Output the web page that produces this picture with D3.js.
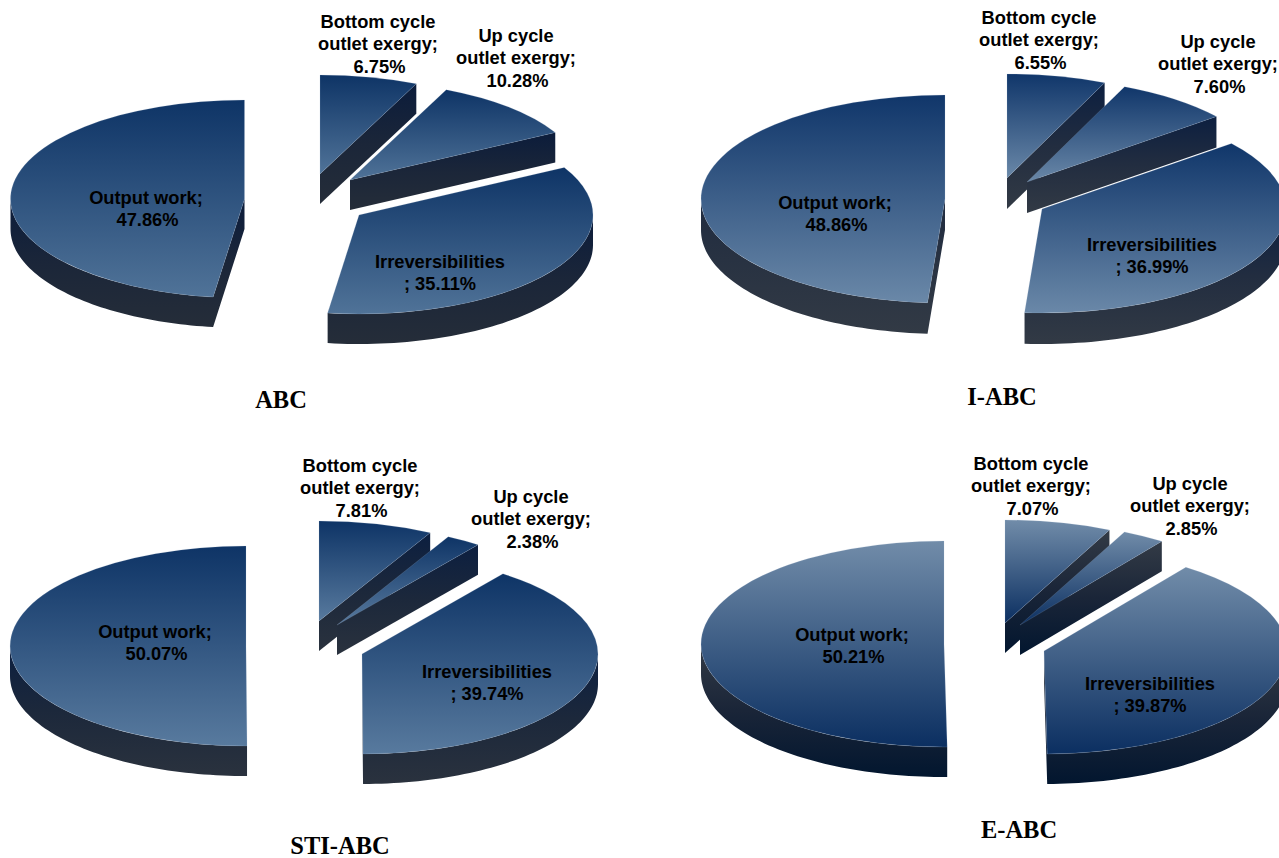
<!DOCTYPE html>
<html>
<head>
<meta charset="utf-8">
<script src="https://cdn.jsdelivr.net/npm/d3@7/dist/d3.min.js"></script>
<style>
html,body{margin:0;padding:0;background:#fff;overflow:hidden}
svg{display:block}
text{font-family:"Liberation Sans",Arial,sans-serif;font-weight:bold;fill:#000}
text.title{font-family:"Liberation Serif","Times New Roman",serif}
</style>
</head>
<body>
<svg id="chart" width="1279" height="858"></svg>
<script>
// ---- data ----
const categories = ["Bottom cycle outlet exergy", "Up cycle outlet exergy", "Irreversibilities", "Output work"];
const abcValues = [6.75, 10.28, 35.11, 47.86];
const iAbcValues = [6.55, 7.60, 36.99, 48.86];
const stiAbcValues = [7.81, 2.38, 39.74, 50.07];
const eAbcValues = [7.07, 2.85, 39.87, 50.21];
const panelTitles = ["ABC", "I-ABC", "STI-ABC", "E-ABC"];

// ---- layout and style (not data) ----
const panels = [
  { values: abcValues, title: panelTitles[0], titleAt: [281, 399.5], rx: 234, ry: 99, depth: 30,
    apex: [[320,174],[350,180],[359,215],[244.5,199]],
    labels: [[378,21],[516,35],[440,261],[146,197]],
    face: ["#0e3466","#507398"], side: ["#0b1c3b","#1b2639","#252d39"] },
  { values: iAbcValues, title: panelTitles[1], titleAt: [1002, 396], rx: 244, ry: 104, depth: 31,
    apex: [[1007,178],[1027,182],[1042,209],[945,199]],
    labels: [[1039,17],[1218,41],[1152,244],[835,202]],
    face: ["#10366a","#6a88a8"], side: ["#0c1f40","#222d40","#323a45"] },
  { values: stiAbcValues, title: panelTitles[2], titleAt: [340, 845], rx: 236, ry: 100, depth: 30,
    apex: [[319,621],[337,625],[362,654],[246,646]],
    labels: [[360,465],[531,496],[487,671],[155,631]],
    face: ["#0e3466","#587a9e"], side: ["#0c1f40","#1c283b","#2a323e"] },
  { values: eAbcValues, title: panelTitles[3], titleAt: [1019, 829.5], rx: 243, ry: 103, depth: 30,
    apex: [[1005,623],[1020,625],[1044,651],[944,644]],
    labels: [[1031,463],[1190,483],[1150,683],[852,634]],
    face: ["#718ca9","#0b2f61"], side: ["#333b46","#1a2538","#02162f"] }
];
const labelSize = 18.3, labelLeading = 22.5, titleSize = 24.5, percentNudge = 1.5;

const svg = d3.select("#chart");
const defs = svg.append("defs");
const pie = d3.pie().sort(null).startAngle(0).endAngle(2 * Math.PI);

function gradient(id, stops) {
  const g = defs.append("linearGradient").attr("id", id)
    .attr("x1", 0).attr("y1", 0).attr("x2", 0).attr("y2", 1);
  g.selectAll("stop").data(stops).join("stop")
    .attr("offset", (d, i) => i / (stops.length - 1))
    .attr("stop-color", d => d);
}

// Side walls of one exploded slice, in screen space around its apex.
function sidePath(d, rx, ry, h) {
  const pt = (t, z) => [rx * Math.sin(t), -ry * Math.cos(t) + z];
  const p = d3.path();
  const H = Math.PI / 2, B = 3 * Math.PI / 2;
  // curved outer wall: only the part facing the viewer
  const a0 = Math.max(d.startAngle, H), a1 = Math.min(d.endAngle, B);
  if (a1 > a0) {
    const s = pt(a0, 0), sb = pt(a0, h);
    p.moveTo(s[0], s[1]);
    const seg = d3.range(1, 61).map(i => a0 + (a1 - a0) * i / 60);
    seg.forEach(t => { const q = pt(t, 0); p.lineTo(q[0], q[1]); });
    seg.slice().reverse().forEach(t => { const q = pt(t, h); p.lineTo(q[0], q[1]); });
    p.lineTo(sb[0], sb[1]);
    p.closePath();
  }
  // radial cut faces that look towards the viewer
  const cut = t => {
    const q = pt(t, 0), qb = pt(t, h);
    p.moveTo(0, 0); p.lineTo(q[0], q[1]); p.lineTo(qb[0], qb[1]); p.lineTo(0, h); p.closePath();
  };
  if (Math.sin(d.endAngle) > 0) cut(d.endAngle);
  if (Math.sin(d.startAngle) < 0) cut(d.startAngle);
  return p.toString();
}

panels.forEach((panel, pi) => {
  const faceId = "face" + pi, sideId = "side" + pi;
  gradient(faceId, panel.face);
  gradient(sideId, panel.side);
  const arc = d3.arc().innerRadius(0).outerRadius(panel.rx);
  const slices = pie(panel.values);
  const g = svg.append("g").attr("class", "panel");

  const sg = g.selectAll("g.slice").data(slices).join("g")
    .attr("class", "slice")
    .attr("transform", (d, i) => `translate(${panel.apex[i][0]},${panel.apex[i][1]})`);

  sg.append("path")
    .attr("d", d => sidePath(d, panel.rx, panel.ry, panel.depth))
    .attr("fill", `url(#${sideId})`);

  sg.append("path")
    .attr("transform", `scale(1,${panel.ry / panel.rx})`)
    .attr("d", arc)
    .attr("fill", `url(#${faceId})`)
    .attr("stroke", "#a9bbd0")
    .attr("stroke-opacity", 0.35)
    .attr("stroke-width", 0.5)
    .attr("vector-effect", "non-scaling-stroke");

  // labels
  const wrapped = i => {
    const pct = panel.values[i].toFixed(2) + "%";
    if (i === 0) return ["Bottom cycle", "outlet exergy;", pct];
    if (i === 1) return ["Up cycle", "outlet exergy;", pct];
    if (i === 2) return [categories[2], "; " + pct];
    return [categories[3] + ";", pct];
  };
  panel.values.forEach((v, i) => {
    const [x, y] = panel.labels[i];
    svg.append("text")
      .attr("text-anchor", "middle")
      .attr("font-size", labelSize)
      .selectAll("tspan").data(wrapped(i)).join("tspan")
      .attr("x", (d, k, all) => (k === all.length - 1 && i !== 2) ? x + percentNudge : x)
      .attr("y", (d, k) => y + k * labelLeading)
      .attr("dominant-baseline", "central")
      .text(d => d);
  });

  svg.append("text").attr("class", "title")
    .attr("x", panel.titleAt[0]).attr("y", panel.titleAt[1])
    .attr("text-anchor", "middle").attr("dominant-baseline", "central")
    .attr("font-size", titleSize)
    .text(panel.title);
});
// labels above all slices
svg.selectAll("text").raise();
</script>
</body>
</html>
